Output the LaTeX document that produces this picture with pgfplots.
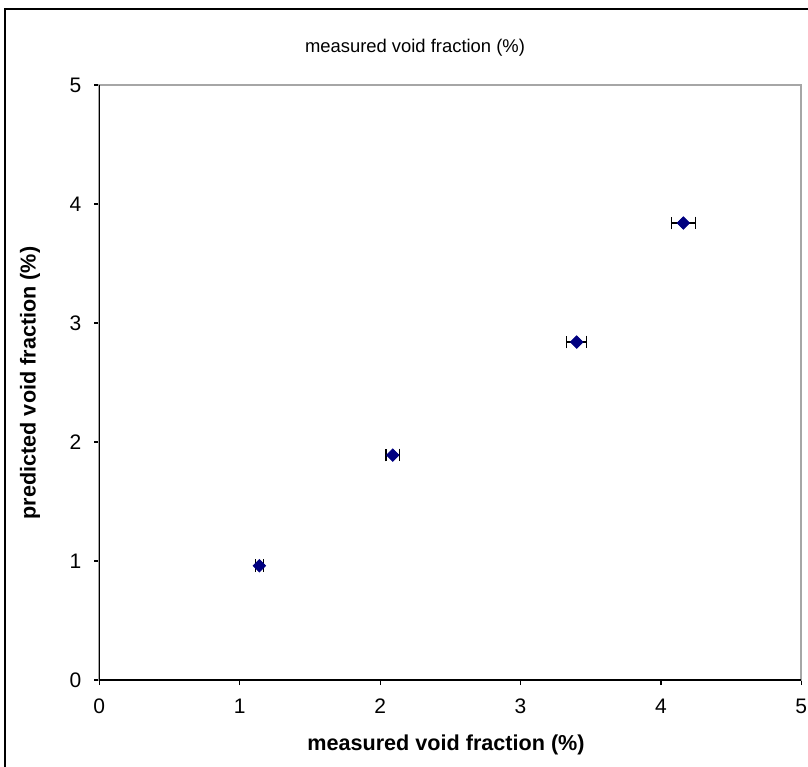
\documentclass[border=0pt]{standalone}
\usepackage{fontspec}
\setmainfont{Liberation Sans}
\usepackage{pgfplots}
\pgfplotsset{compat=1.18}
\definecolor{navy}{RGB}{0,0,128}
\pgfplotstableread{
x y ex
1.14 0.96 0.030
2.09 1.89 0.048
3.40 2.84 0.071
4.16 3.84 0.087
}\datatable
\begin{document}
\begin{tikzpicture}[x=0.5pt,y=0.5pt]
\useasboundingbox (0,0) rectangle (808,766);
\draw[line width=1pt] (5,-60) -- (5,757) -- (900,757);
\node[font=\fontsize{9.2}{11}\selectfont] at (415,718) {measured void fraction (\%)};
\node[font=\bfseries\fontsize{10.8}{12}\selectfont] at (446,21) {measured void fraction (\%)};
\node[rotate=90,font=\bfseries\fontsize{10.8}{12}\selectfont] at (30,383) {predicted void fraction (\%)};
\begin{axis}[
  at={(49.65pt,43pt)}, anchor=south west,
  scale only axis, width=351pt, height=297.5pt,
  xmin=0, xmax=5, ymin=0, ymax=5,
  xtick={0,1,2,3,4,5}, ytick={0,1,2,3,4,5},
  tick align=outside, tick pos=left,
  major tick length=2.5pt,
  tick style={black, line width=0.6pt},
  axis line style={draw=gray!70, line width=0.9pt},
  ticklabel style={font=\fontsize{10.5}{12}\selectfont},
  xticklabel style={yshift=-3.5pt},
  yticklabel style={xshift=-3pt},
  /pgf/number format/assume math mode=true,
  clip=false,
]
\addplot[
  only marks, mark=square*, mark size=2.2pt,
  mark options={rotate=45, fill=navy, draw=navy},
  error bars/.cd, x dir=both, x explicit,
  error mark=|,
  error bar style={black, line width=0.6pt},
  error mark options={black, mark size=3.2pt, line width=0.6pt, rotate=0},
] table[x=x, y=y, x error=ex] {\datatable};
\draw[black, line width=0.7pt] (rel axis cs:0,1) -- (rel axis cs:0,0) -- (rel axis cs:1,0);
\end{axis}
\end{tikzpicture}
\end{document}
